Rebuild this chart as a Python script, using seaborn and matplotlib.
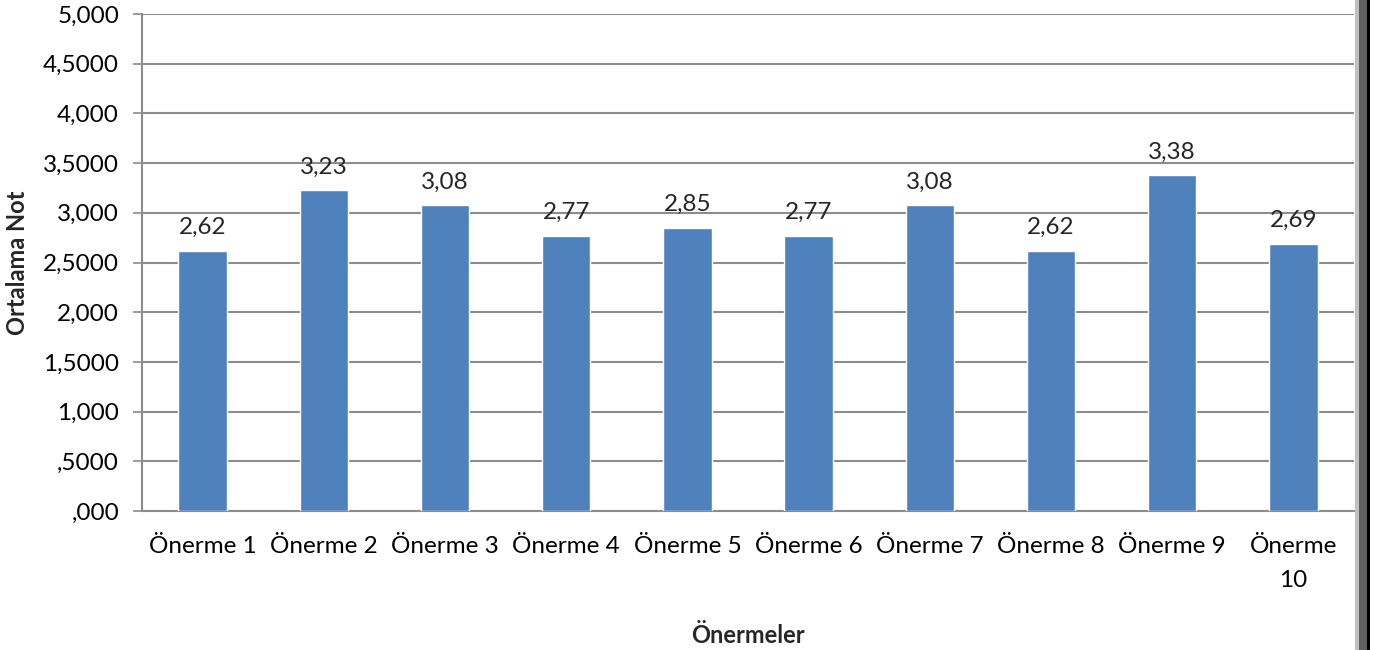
import matplotlib
matplotlib.use("Agg")
import matplotlib.pyplot as plt
import pandas as pd
import seaborn as sns
from matplotlib.patches import Rectangle

categories = [f"Önerme {i}" for i in range(1, 10)] + ["Önerme\n10"]
values = [2.62, 3.23, 3.08, 2.77, 2.85, 2.77, 3.08, 2.62, 3.38, 2.69]
value_labels = ["2,62", "3,23", "3,08", "2,77", "2,85", "2,77", "3,08", "2,62", "3,38", "2,69"]
y_ticks = [0, 0.5, 1.0, 1.5, 2.0, 2.5, 3.0, 3.5, 4.0, 4.5, 5.0]
y_tick_labels = [",000", ",5000", "1,000", "1,5000", "2,000", "2,5000",
                 "3,000", "3,5000", "4,000", "4,5000", "5,000"]

sns.set_theme(style="white")
plt.rcParams["font.family"] = ["Lato", "DejaVu Sans"]

df = pd.DataFrame({"cat": categories, "val": values})

fig = plt.figure(figsize=(13.86, 6.5), dpi=100)
ax = fig.add_axes([142 / 1386, 1 - 511 / 650, (1354 - 142) / 1386, (511 - 14) / 650])

sns.barplot(data=df, x="cat", y="val", color="#4F81BD", width=0.4,
            saturation=1, ax=ax, zorder=3)

ax.set_ylim(0, 5)
ax.set_xlim(-0.5, len(categories) - 0.5)
ax.set_yticks(y_ticks)
ax.set_yticklabels(y_tick_labels)
ax.yaxis.grid(True, color="#8c8c8c", lw=1.5, zorder=0)
ax.tick_params(axis="y", length=6.5, width=1.2, color="#8c8c8c", labelsize=17.5,
               pad=10, left=True, labelcolor="#000000")
ax.tick_params(axis="x", length=0, labelsize=17.5, pad=18, labelcolor="#000000")
for t in ax.get_xticklabels():
    t.set_linespacing(1.75)

for s in ["top", "right"]:
    ax.spines[s].set_visible(False)
for s in ["left", "bottom"]:
    ax.spines[s].set_color("#8c8c8c")
    ax.spines[s].set_linewidth(1.5)

for i, (v, lab) in enumerate(zip(values, value_labels)):
    ax.annotate(lab, (i, v), xytext=(0, 9), textcoords="offset points",
                ha="center", va="bottom", fontsize=17.5)

ax.set_xlabel("Önermeler", fontsize=17, fontweight="bold", labelpad=24)
ax.set_ylabel("Ortalama Not", fontsize=17, fontweight="bold", labelpad=10)

# right-hand frame border
fig.add_artist(Rectangle((1355 / 1386, 0), 4 / 1386, 1, transform=fig.transFigure,
                         color="#c0c0c0", lw=0))
fig.add_artist(Rectangle((1359 / 1386, 0), 8 / 1386, 1, transform=fig.transFigure,
                         color="#606060", lw=0))
fig.add_artist(Rectangle((1367 / 1386, 0), 3 / 1386, 1, transform=fig.transFigure,
                         color="#000000", lw=0))

fig.savefig("out.png", dpi=100)
